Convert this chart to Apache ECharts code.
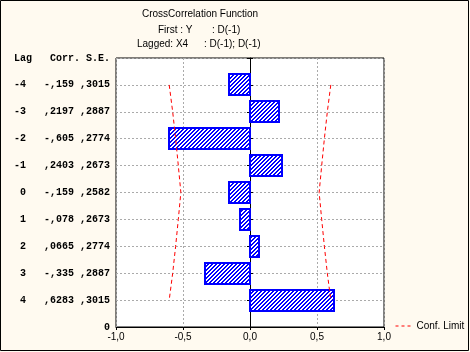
<!DOCTYPE html>
<html>
<head>
<meta charset="utf-8">
<script src="https://cdn.jsdelivr.net/npm/echarts@6/dist/echarts.min.js"></script>
<style>
  html, body { margin: 0; padding: 0; background: #fffaf0; }
  #chart { width: 470px; height: 352px; }
</style>
</head>
<body>
<div id="chart"></div>
<script>
// lags from top to bottom
const lags = ['-4', '-3', '-2', '-1', ' 0', ' 1', ' 2', ' 3', ' 4'];
const corrLabels = ['-,159', ',2197', '-,605', ',2403', '-,159', '-,078', ',0665', '-,335', ',6283'];
const seLabels = [',3015', ',2887', ',2774', ',2673', ',2582', ',2673', ',2774', ',2887', ',3015'];
const corrValues = [-0.159, 0.2197, -0.605, 0.2403, -0.159, -0.078, 0.0665, -0.335, 0.6283];
const upperLimit = [0.603, 0.577, 0.555, 0.535, 0.516, 0.535, 0.555, 0.577, 0.603];
const lowerLimit = [-0.603, -0.577, -0.555, -0.535, -0.516, -0.535, -0.555, -0.577, -0.603];
const xTickLabels = ['-1,0', '-0,5', '0,0', '0,5', '1,0'];

// row position on the y value axis: first lag sits at 9, last at 1
const rowPos = lags.map((l, i) => lags.length - i);

// hatch fill "/////", pixel exact so it stays bright blue
const hatch = document.createElement('canvas');
hatch.width = 4;
hatch.height = 4;
const hc = hatch.getContext('2d');
hc.fillStyle = '#ffffff';
hc.fillRect(0, 0, 4, 4);
hc.fillStyle = '#0000ff';
for (let i = 0; i < 4; i++) {
  hc.fillRect(i, 3 - i, 1, 1);
  hc.fillRect((i + 1) % 4, 3 - i, 1, 1);
}

const chart = echarts.init(document.getElementById('chart'), null, { renderer: 'canvas' });

const sans = 'Liberation Sans';
const mono = 'Liberation Mono';

const option = {
  backgroundColor: '#fffaf0',
  animation: false,
  grid: {
    left: 116,
    right: 86,
    top: 58,
    bottom: 25,
    show: true,
    backgroundColor: '#ffffff',
    borderColor: '#000000',
    borderWidth: 1
  },
  graphic: [
    {
      type: 'rect',
      shape: { x: 0.5, y: 0.5, width: 468, height: 350 },
      style: { fill: 'none', stroke: '#000', lineWidth: 1 },
      silent: true
    },
    { type: 'text', left: 142, top: 9, style: { text: 'CrossCorrelation Function', font: '10px ' + sans, fill: '#000' } },
    { type: 'text', left: 158, top: 25, style: { text: 'First : Y', font: '10px ' + sans, fill: '#000' } },
    { type: 'text', left: 212, top: 25, style: { text: ': D(-1)', font: '10px ' + sans, fill: '#000' } },
    { type: 'text', left: 137, top: 39, style: { text: 'Lagged: X4', font: '10px ' + sans, fill: '#000' } },
    { type: 'text', left: 204, top: 39, style: { text: ': D(-1); D(-1)', font: '10px ' + sans, fill: '#000' } }
  ],
  legend: {
    left: 395,
    top: 321,
    padding: 0,
    itemWidth: 16,
    itemHeight: 10,
    itemGap: 4,
    textStyle: { fontFamily: sans, fontSize: 10, color: '#000', padding: [0, 0, 0, 0] },
    itemStyle: { opacity: 0 },
    lineStyle: { color: '#ff0000', width: 1, type: [3, 3] },
    data: ['Conf. Limit']
  },
  xAxis: [
    {
      type: 'value',
      min: -1,
      max: 1,
      interval: 0.5,
      axisLine: { show: true, lineStyle: { color: '#000' } },
      axisTick: { show: false },
      axisLabel: {
        margin: 5,
        fontFamily: sans,
        fontSize: 10,
        color: '#000',
        formatter: v => xTickLabels[Math.round((v + 1) / 0.5)]
      },
      splitLine: { show: true, lineStyle: { color: '#aaaaaa', type: [2, 2], width: 1 } }
    },
    {
      type: 'value',
      position: 'top',
      min: -1,
      max: 1,
      interval: 0.5,
      axisLine: { show: false },
      axisTick: { show: true, inside: true, length: 3, lineStyle: { color: '#000' } },
      axisLabel: { show: false },
      splitLine: { show: false }
    }
  ],
  yAxis: [
    {
      type: 'value',
      min: 0,
      max: 10,
      interval: 1,
      axisLine: { show: true, lineStyle: { color: '#000' } },
      axisTick: { show: true, inside: true, length: 3, lineStyle: { color: '#000' } },
      axisLabel: {
        margin: 6,
        fontFamily: mono,
        fontWeight: 'bold',
        fontSize: 10,
        color: '#000',
        formatter: v => {
          if (v === 0) return '0';
          if (v === 10) return 'Lag   Corr. S.E.';
          const i = lags.length - v;
          return lags[i] + '   ' + corrLabels[i] + ' ' + seLabels[i];
        }
      },
      splitLine: { show: true, lineStyle: { color: '#aaaaaa', type: [2, 2], width: 1 } }
    },
    {
      type: 'value',
      position: 'right',
      min: 0,
      max: 10,
      interval: 1,
      axisLine: { show: false },
      axisTick: { show: true, inside: true, length: 3, lineStyle: { color: '#000' } },
      axisLabel: { show: false },
      splitLine: { show: false }
    }
  ],
  series: [
    {
      type: 'custom',
      name: 'Corr',
      data: corrValues.map((c, i) => [c, rowPos[i]]),
      renderItem: function (params, api) {
        const x = api.value(0);
        const y = api.value(1);
        const p0 = api.coord([0, y]);
        const p1 = api.coord([x, y]);
        const h = api.size([0, 0.78])[1];
        return {
          type: 'rect',
          shape: {
            x: Math.round(Math.min(p0[0], p1[0])),
            y: Math.round(p0[1] - h / 2),
            width: Math.round(Math.abs(p1[0] - p0[0])),
            height: Math.round(h)
          },
          style: {
            fill: { image: hatch, repeat: 'repeat' },
            stroke: '#0000ff',
            lineWidth: 2
          }
        };
      },
      z: 3
    },
    {
      type: 'line',
      name: 'Conf. Limit',
      data: lowerLimit.map((v, i) => [v, rowPos[i]]),
      symbol: 'none',
      lineStyle: { color: '#ff0000', width: 1, type: [4, 3] },
      itemStyle: { color: '#ff0000' },
      z: 4
    },
    {
      type: 'line',
      name: 'Conf. Limit',
      data: upperLimit.map((v, i) => [v, rowPos[i]]),
      symbol: 'none',
      lineStyle: { color: '#ff0000', width: 1, type: [4, 3] },
      itemStyle: { color: '#ff0000' },
      z: 4
    }
  ]
};

chart.setOption(option);
</script>
</body>
</html>
